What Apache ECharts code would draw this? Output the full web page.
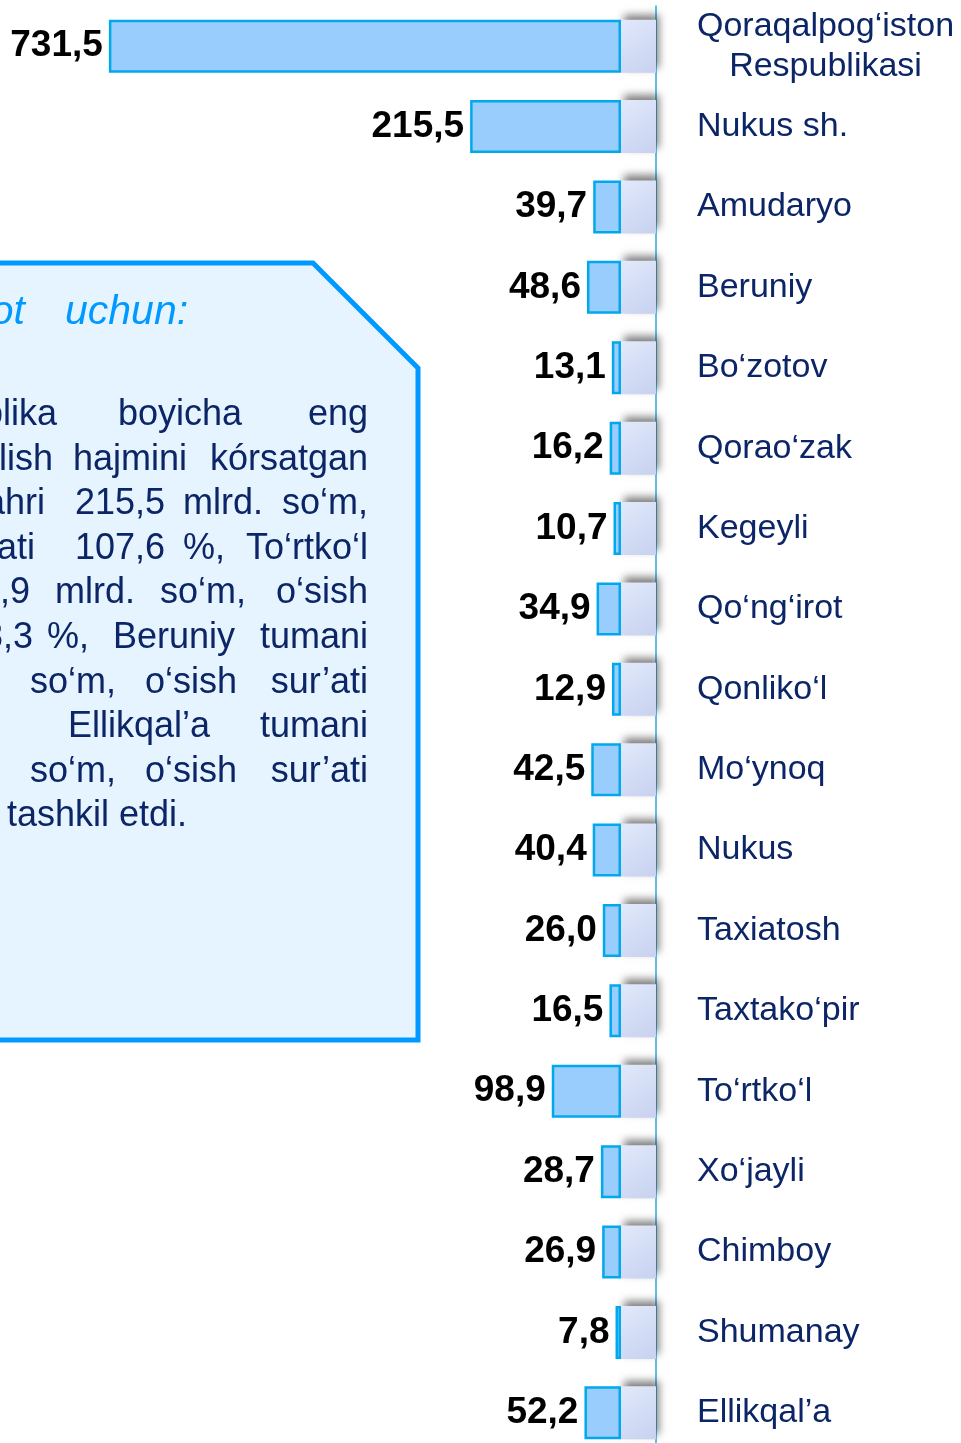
<!DOCTYPE html>
<html>
<head>
<meta charset="utf-8">
<script src="https://cdn.jsdelivr.net/npm/echarts@6/dist/echarts.min.js"></script>
<style>
  html, body { margin: 0; padding: 0; background: #fff; }
  #chart { width: 961px; height: 1443px; }
</style>
</head>
<body>
<div id="chart"></div>
<script>
// hududlar
const categories = [
  "Qoraqalpog‘iston Respublikasi", "Nukus sh.", "Amudaryo", "Beruniy", "Bo‘zotov",
  "Qorao‘zak", "Kegeyli", "Qo‘ng‘irot", "Qonliko‘l", "Mo‘ynoq", "Nukus",
  "Taxiatosh", "Taxtako‘pir", "To‘rtko‘l", "Xo‘jayli", "Chimboy", "Shumanay", "Ellikqal’a"
];
// mlrd. so'm
const values = [
  731.5, 215.5, 39.7, 48.6, 13.1, 16.2, 10.7, 34.9, 12.9,
  42.5, 40.4, 26.0, 16.5, 98.9, 28.7, 26.9, 7.8, 52.2
];
// bezak bloki (har bir ustun yonidagi)
const shelf = categories.map(() => 50);

const textColor = "#0b2566";
const font = "Liberation Sans, Arial, sans-serif";

// chapdagi matn bloki (so'zlar joylashuvi)
const bodyLines = [
  [["Respublika", 57, "right"], ["boyicha", 118], ["eng", 368, "right"]],
  [["chiqarilish", 53, "right"], ["hajmini", 73], ["kórsatgan", 368, "right"]],
  [["shahri", 45, "right"], ["215,5", 75], ["mlrd.", 183], ["so‘m,", 368, "right"]],
  [["sur’ati", 35, "right"], ["107,6", 75], ["%,", 183], ["To‘rtko‘l", 368, "right"]],
  [["98,9", 30, "right"], ["mlrd.", 55], ["so‘m,", 160], ["o‘sish", 368, "right"]],
  [["108,3", 33, "right"], ["%,", 47], ["Beruniy", 113], ["tumani", 368, "right"]],
  [["mlrd.", 3, "right"], ["so‘m,", 30], ["o‘sish", 145], ["sur’ati", 368, "right"]],
  [["Ellikqal’a", 68], ["tumani", 368, "right"]],
  [["mlrd.", 3, "right"], ["so‘m,", 30], ["o‘sish", 145], ["sur’ati", 368, "right"]],
  [["tashkil etdi.", 7]]
];

const graphics = [
  {
    type: "polygon",
    shape: { points: [[-10, 263], [313, 263], [418, 368], [418, 1040], [-10, 1040]] },
    style: { fill: "#e6f4ff", stroke: "#0099ff", lineWidth: 5 },
    z: 0
  },
  {
    type: "text", x: 25, y: 313,
    style: { text: "Ma’lumot", font: "italic 41px " + font, fill: "#0099ff", align: "right", verticalAlign: "middle" }
  },
  {
    type: "text", x: 65, y: 313,
    style: { text: "uchun:", font: "italic 41px " + font, fill: "#0099ff", align: "left", verticalAlign: "middle" }
  }
];
bodyLines.forEach((line, i) => {
  line.forEach(([word, x, align]) => {
    graphics.push({
      type: "text", x: x, y: 415 + i * 44.6,
      style: { text: word, font: "36px " + font, fill: textColor, align: align || "left", verticalAlign: "middle" }
    });
  });
});

const chart = echarts.init(document.getElementById("chart"));
chart.setOption({
  animation: false,
  backgroundColor: "#fff",
  graphic: graphics,
  grid: { left: 0, right: 305, top: 6, height: 1447, outerBoundsMode: "none", containLabel: false },
  xAxis: { type: "value", inverse: true, min: 0, max: 937, show: false },
  yAxis: {
    type: "category",
    position: "right",
    inverse: true,
    data: categories,
    axisLine: { lineStyle: { color: "#29abe2", width: 1.5 } },
    axisTick: { length: 9, lineStyle: { color: "#29abe2", width: 1.5 } },
    splitLine: { show: false },
    axisLabel: {
      margin: 41,
      fontSize: 34,
      fontFamily: font,
      color: textColor,
      formatter: function (name) {
        if (name.indexOf("Respublikasi") > -1) {
          return "{c|Qoraqalpog‘iston}\n{c|Respublikasi}";
        }
        return name;
      },
      rich: {
        c: { fontSize: 34, fontFamily: font, color: textColor, align: "center", lineHeight: 40 }
      }
    }
  },
  series: [
    {
      type: "bar",
      stack: "a",
      data: shelf,
      barWidth: 53,
      silent: true,
      itemStyle: {
        color: new echarts.graphic.LinearGradient(0, 0, 1, 1, [
          { offset: 0, color: "#e2e9fa" },
          { offset: 0.5, color: "#d3ddf5" },
          { offset: 1, color: "#c8d2f0" }
        ]),
        shadowColor: "rgba(0,0,0,0.5)",
        shadowBlur: 8,
        shadowOffsetX: 3,
        shadowOffsetY: -5
      }
    },
    {
      type: "bar",
      stack: "a",
      data: values,
      barWidth: 53,
      itemStyle: { color: "#99cdfe", borderColor: "#00a8ec", borderWidth: 2.5 },
      label: {
        show: true,
        position: "left",
        distance: 6,
        fontSize: 37,
        fontWeight: "bold",
        fontFamily: font,
        color: "#000",
        formatter: (p) => p.value.toFixed(1).replace(".", ",")
      }
    }
  ]
});
</script>
</body>
</html>
